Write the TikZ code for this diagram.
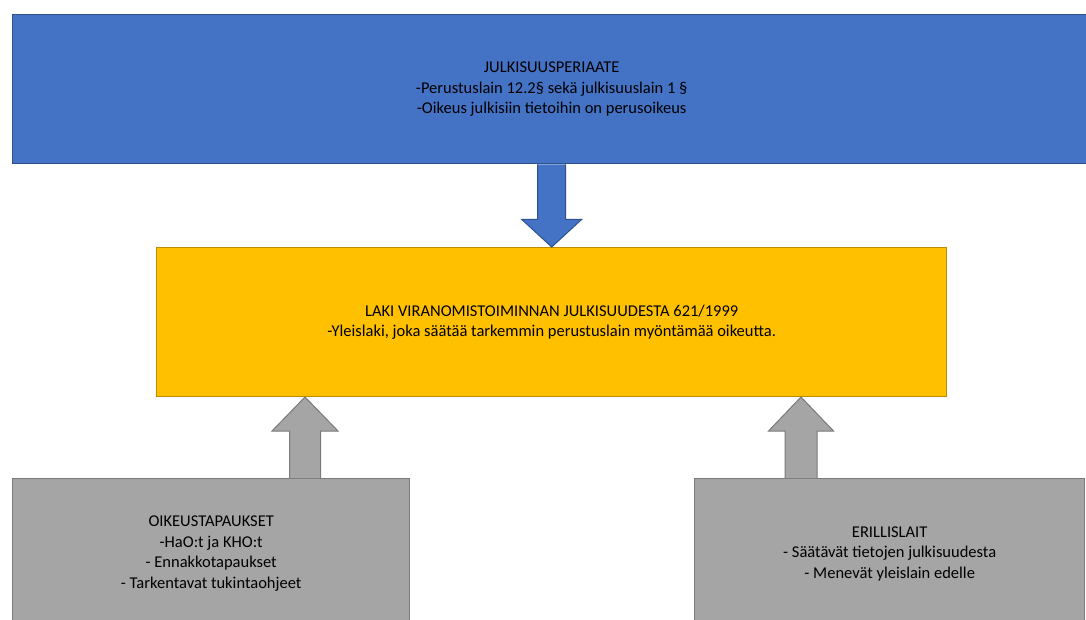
\documentclass[tikz,border=0pt]{standalone}
\usepackage{fontspec}
\setmainfont{Carlito}
\usetikzlibrary{calc}
\definecolor{boxblue}{HTML}{4472C4}
\definecolor{edgeblue}{HTML}{2F528F}
\definecolor{boxgold}{HTML}{FFC000}
\definecolor{edgegold}{HTML}{BC8C00}
\definecolor{boxgray}{HTML}{A5A5A5}
\definecolor{edgegray}{HTML}{7A7A7A}
\begin{document}
\begin{tikzpicture}[x=1pt,y=-1pt,
  panel/.style={draw, line width=1.4pt, inner sep=0pt, align=center,
    anchor=north west, text=black, font=\fontsize{16.5}{20.5}\selectfont},
  bluepanel/.style={panel, fill=boxblue, draw=edgeblue},
  goldpanel/.style={panel, fill=boxgold, draw=edgegold},
  graypanel/.style={panel, fill=boxgray, draw=edgegray},
  bluearrow/.style={fill=boxblue, draw=edgeblue, line width=1pt, line join=miter},
  grayarrow/.style={fill=boxgray, draw=edgegray, line width=1pt, line join=miter}]
\useasboundingbox (0,0) rectangle (1086,619);
\begin{scope}
\clip (0,0) rectangle (1086,619);
% three levels of the structure
\node[bluepanel, minimum width=1078pt, minimum height=149pt] (blue) at (12,14)
  {JULKISUUSPERIAATE\\-Perustuslain 12.2§ sekä julkisuuslain 1 §\\-Oikeus julkisiin tietoihin on perusoikeus};
\node[goldpanel, minimum width=790pt, minimum height=149pt] (yellow) at (156,247)
  {LAKI VIRANOMISTOIMINNAN JULKISUUDESTA 621/1999\\-Yleislaki, joka säätää tarkemmin perustuslain myöntämää oikeutta.};
\node[graypanel, minimum width=397pt, minimum height=150pt] (cases) at (12,478)
  {OIKEUSTAPAUKSET\\-HaO:t ja KHO:t\\- Ennakkotapaukset\\- Tarkentavat tukintaohjeet};
\node[graypanel, minimum width=390pt, minimum height=150pt] (acts) at (694,478)
  {ERILLISLAIT\\- Säätävät tietojen julkisuudesta\\- Menevät yleislain edelle};
% block arrow from the principle down to the general act
\draw[bluearrow] ($(blue.south)+(-14,0)$) -- ($(blue.south)+(-14,55)$)
  -- ($(blue.south)+(-30,55)$) -- (yellow.north) -- ($(blue.south)+(30,55)$)
  -- ($(blue.south)+(14,55)$) -- ($(blue.south)+(14,0)$);
% block arrows from the lower boxes up to the general act
\coordinate (tipL) at (305,397);
\coordinate (tipR) at (801,397);
\draw[grayarrow] ($(tipL |- cases.north)+(-15.5,0)$) -- ($(tipL)+(-15.5,34)$)
  -- ($(tipL)+(-33,34)$) -- (tipL) -- ($(tipL)+(33,34)$)
  -- ($(tipL)+(15.5,34)$) -- ($(tipL |- cases.north)+(15.5,0)$);
\draw[grayarrow] ($(tipR |- acts.north)+(-16,0)$) -- ($(tipR)+(-16,34)$)
  -- ($(tipR)+(-32.5,34)$) -- (tipR) -- ($(tipR)+(32.5,34)$)
  -- ($(tipR)+(16,34)$) -- ($(tipR |- acts.north)+(16,0)$);
\end{scope}
\end{tikzpicture}
\end{document}
